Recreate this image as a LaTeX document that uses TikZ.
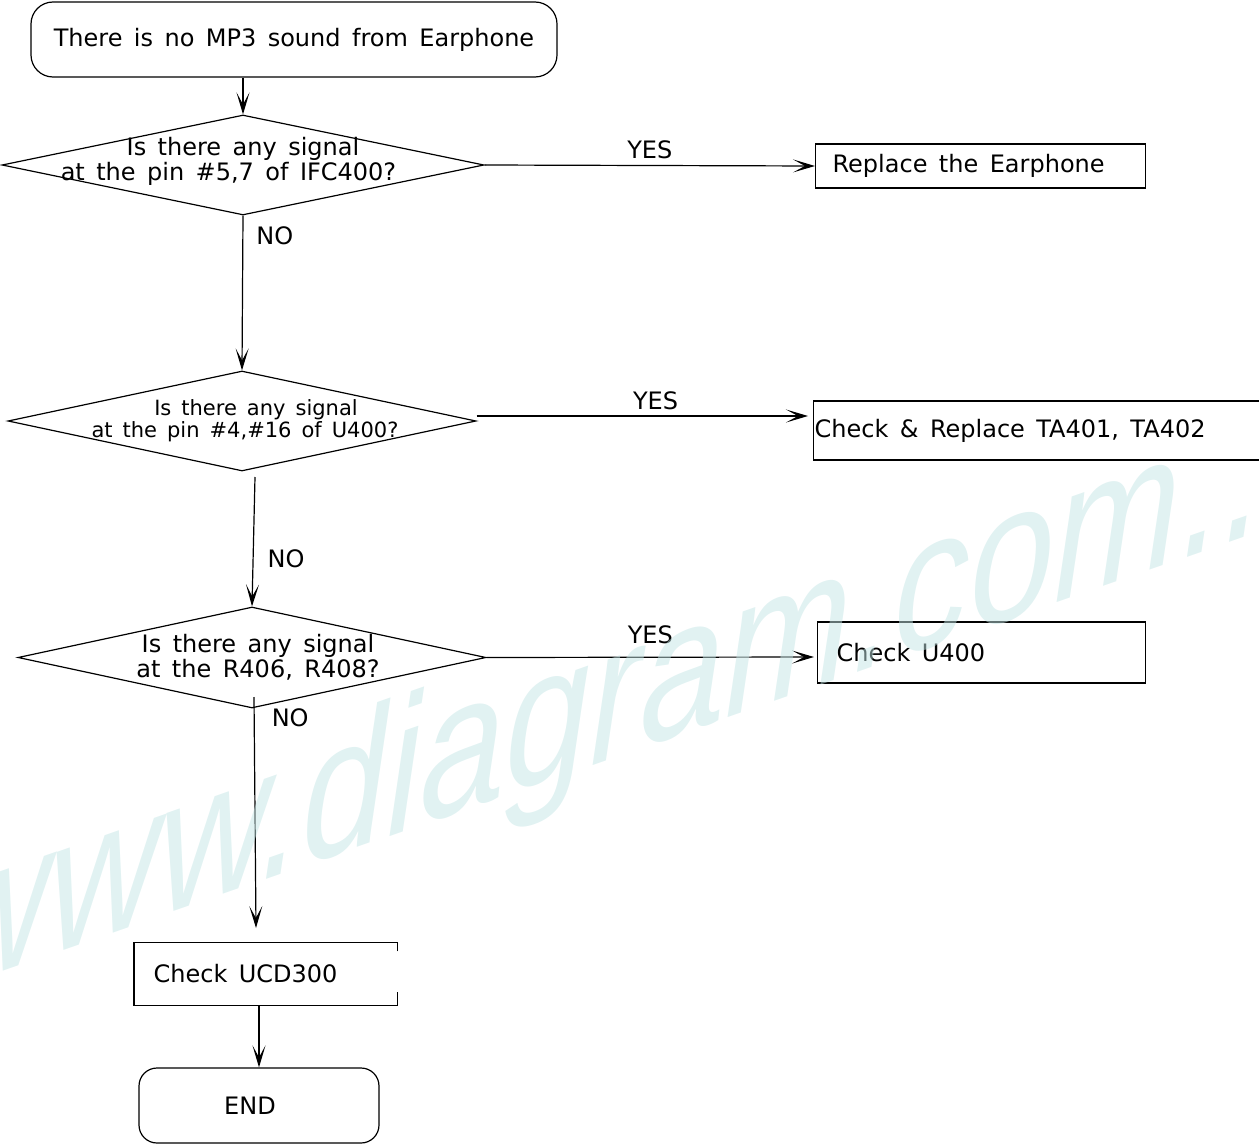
\documentclass[tikz,border=0pt]{standalone}
\usepackage{fontspec}
\setmainfont{DejaVu Sans}[WordSpace=1.5]
\newfontfamily\wmfont{Liberation Sans}
\usetikzlibrary{shapes.geometric,arrows.meta,calc}
\definecolor{wmcyan}{RGB}{195,229,229}

\begin{document}
\begin{tikzpicture}[x=0.5pt,y=-0.5pt,line width=0.6pt,
    every node/.style={font=\fontsize{12}{11.5}\selectfont},
    flow/.style={-{Stealth[length=11pt,width=6.5pt,inset=6pt]}},
    term/.style={draw,rounded corners=11pt,inner sep=0pt},
    query/.style={draw,diamond,inner sep=0pt},
    act/.style={draw,anchor=west,align=flush left,inner ysep=0pt},
    lbl/.style={inner sep=2pt}]
  \useasboundingbox (0,0) rectangle (1259,1145);
  \clip (0,0) rectangle (1259,1145);

  % start and questions
  \node[term,minimum width=263pt,minimum height=37.5pt] (start) at (294,39.5)
    {There is no MP3 sound from Earphone};
  \node[query,minimum width=241pt,minimum height=50pt] (q1) at (243,165) {};
  \node[align=center] (q1t) at (243,161)
    {Is there any signal\\at the pin \#5,7 of IFC400?\hspace*{14.5pt}};
  \node[query,minimum width=234pt,minimum height=50pt] (q2) at (242,421) {};
  \node[align=center,font=\fontsize{10.5}{10}\selectfont] (q2t) at (256,421)
    {Is there any signal\\at the pin \#4,\#16 of U400?\hspace*{11pt}};
  \node[query,minimum width=234pt,minimum height=50.5pt] (q3) at (252,657.5) {};
  \node[align=center] (q3t) at (258,657)
    {Is there any signal\\at the R406, R408?};

  % actions
  \node[act,minimum height=22pt,inner xsep=8.5pt,text width=148pt] (b1) at (815,166)
    {Replace the Earphone};
  \node[act,minimum height=29.5pt,inner xsep=0.5pt,text width=242.5pt] (b2) at (813,430.5)
    {Check \& Replace TA401, TA402};
  \node[act,minimum height=30.5pt,inner xsep=9.5pt,text width=145pt] (b3) at (817,652.5)
    {Check U400};
  \node[anchor=west,align=flush left,inner ysep=0pt,minimum height=31pt,inner xsep=9.5pt,
    text width=112pt] (b4) at (134,974) {Check UCD300};
  \draw (b4.north east) ++(0,9) -- (b4.north east) -- (b4.north west)
    -- (b4.south west) -- (b4.south east) -- ++(0,-14);
  \node[term,rounded corners=9pt,minimum width=120pt,minimum height=37.5pt] (fin)
    at (259,1105.5) {\hspace*{-9pt}END};

  % connectors
  \coordinate (t2) at (808,416);
  \coordinate (t3) at (814,657);
  \coordinate (s2) at (255,477);
  \coordinate (s3) at (254,697);
  \coordinate (e3) at (256,928);
  \draw[flow] (q1.north |- start.south) -- (q1.north);
  \draw[flow] (q1.east) -- node[lbl,above=1pt] (y1) {YES} (b1.west);
  \draw[flow] (q1.south) -- node[lbl,pos=0.13,right=4.5pt] (n1) {NO} (q2.north);
  \draw[flow] ([yshift=2.5pt]q2.east) -- node[lbl,above=1pt,pos=0.54] (y2) {YES} (t2);
  \draw[flow] (s2) -- node[lbl,pos=0.63,right=5pt] (n2) {NO} (q3.north);
  \draw[flow] (q3.east) -- node[lbl,above=4.5pt] (y3) {YES} (t3);
  \draw[flow] (s3) -- node[lbl,pos=0.09,right=6.5pt] (n3) {NO} (e3);
  \draw[flow] (b4.south -| fin.north) -- (fin.north);

  % watermark
  \node[font=\wmfont\itshape\fontsize{76}{76}\selectfont,text=wmcyan,opacity=0.5,
    anchor=base west,inner sep=0pt,yslant=0.35,yscale=1.25] (wm) at (-61,994)
    {www.diagram.com..};
\end{tikzpicture}
\end{document}
